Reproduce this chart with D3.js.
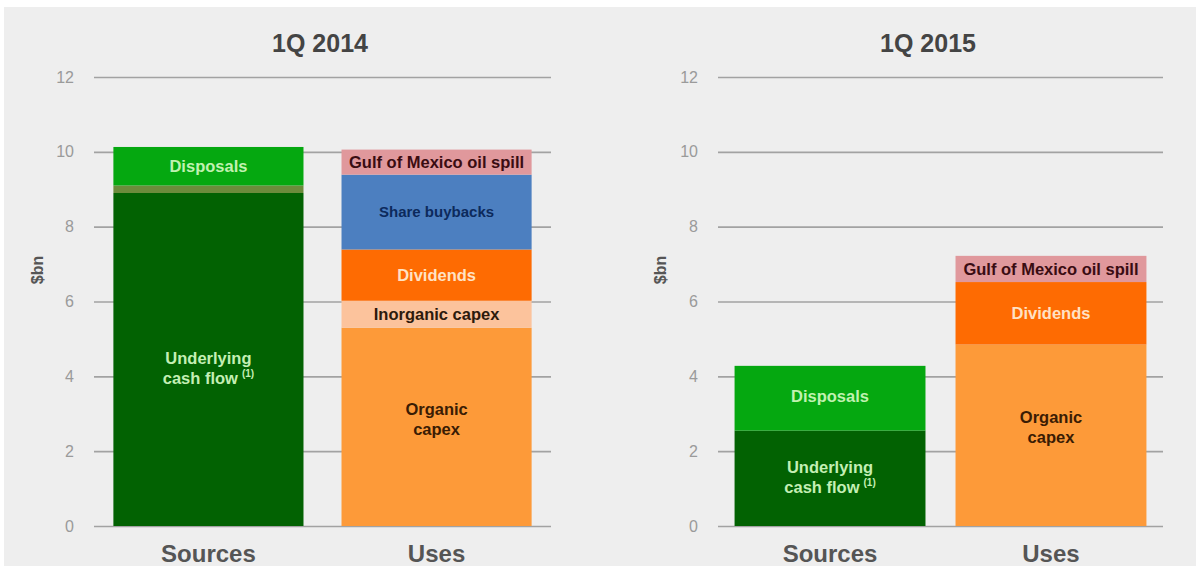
<!DOCTYPE html>
<html>
<head>
<meta charset="utf-8">
<script src="https://cdn.jsdelivr.net/npm/d3@7"></script>
<style>
  html, body { margin: 0; padding: 0; background: #ffffff; }
  svg { display: block; font-family: "Liberation Sans", Arial, sans-serif; }
</style>
</head>
<body>
<svg id="chart" width="1200" height="566"></svg>
<script>
// Sources and uses of cash, $bn
const panelTitles = ["1Q 2014", "1Q 2015"];
const categories = ["Sources", "Uses"];
const yTicks = [0, 2, 4, 6, 8, 10, 12];

// 1Q 2014
const sources2014Names = ["Underlying cash flow", "Other sources", "Disposals"];
const sources2014Values = [8.9, 0.2, 1.03];
const uses2014Names = ["Organic capex", "Inorganic capex", "Dividends", "Share buybacks", "Gulf of Mexico oil spill"];
const uses2014Values = [5.3, 0.72, 1.37, 2.0, 0.67];

// 1Q 2015
const sources2015Names = ["Underlying cash flow", "Disposals"];
const sources2015Values = [2.55, 1.73];
const uses2015Names = ["Organic capex", "Dividends", "Gulf of Mexico oil spill"];
const uses2015Values = [4.85, 1.67, 0.70];

// Segment styling
const fillOf = {
  "Underlying cash flow": "#026202",
  "Other sources": "#6c8c3c",
  "Disposals": "#05a810",
  "Organic capex": "#fd9a39",
  "Inorganic capex": "#fcc39c",
  "Dividends": "#fe6b02",
  "Share buybacks": "#4c7fc0",
  "Gulf of Mexico oil spill": "#e0989c"
};
const textOf = {
  "Underlying cash flow": "#c4efb4",
  "Disposals": "#c0f2b0",
  "Organic capex": "#3a1c04",
  "Inorganic capex": "#2c1a0c",
  "Dividends": "#ffe2c4",
  "Share buybacks": "#0c2a5c",
  "Gulf of Mexico oil spill": "#3a0c12"
};
// Lines of text shown inside each segment
const labelLines = {
  "Underlying cash flow": ["Underlying", "cash flow"],
  "Disposals": ["Disposals"],
  "Organic capex": ["Organic", "capex"],
  "Inorganic capex": ["Inorganic capex"],
  "Dividends": ["Dividends"],
  "Share buybacks": ["Share buybacks"],
  "Gulf of Mexico oil spill": ["Gulf of Mexico oil spill"]
};

const panels = [
  {
    title: panelTitles[0],
    grid: [94, 551], padIn: 0.1667, padOut: 0.085,
    titleX: 320, axisLabelX: 38,
    labelNudge: { "Underlying cash flow": 9, "Organic capex": -8 },
    stacks: [
      { cat: categories[0], names: sources2014Names, values: sources2014Values },
      { cat: categories[1], names: uses2014Names, values: uses2014Values }
    ]
  },
  {
    title: panelTitles[1],
    grid: [718, 1163], padIn: 0.136, padOut: 0.075,
    titleX: 928, axisLabelX: 661,
    labelNudge: { "Underlying cash flow": -1, "Disposals": -2, "Organic capex": -8 },
    stacks: [
      { cat: categories[0], names: sources2015Names, values: sources2015Values },
      { cat: categories[1], names: uses2015Names, values: uses2015Values }
    ]
  }
];

const svg = d3.select("#chart");

// Panel background
svg.append("rect")
  .attr("x", 4).attr("y", 7)
  .attr("width", 1192).attr("height", 566 - 7)
  .attr("fill", "#eeeeee");

const y = d3.scaleLinear().domain([0, 12]).range([526, 77]);

panels.forEach(p => {
  const g = svg.append("g");
  const x = d3.scaleBand()
    .domain(categories)
    .range(p.grid)
    .paddingInner(p.padIn)
    .paddingOuter(p.padOut);

  // Gridlines and tick labels
  const axis = d3.axisLeft(y)
    .tickValues(yTicks)
    .tickSizeInner(-(p.grid[1] - p.grid[0]))
    .tickSizeOuter(0)
    .tickPadding(20);
  const ag = g.append("g")
    .attr("transform", `translate(${p.grid[0]},0)`)
    .call(axis);
  ag.select(".domain").remove();
  ag.selectAll(".tick line").attr("stroke", "#a2a2a2").attr("stroke-width", 1.6);
  ag.selectAll(".tick text")
    .attr("fill", "#9a9a9a")
    .style("font-size", "16px")
    .style("font-family", "'Liberation Sans', Arial, sans-serif");

  // Title
  g.append("text")
    .attr("x", p.titleX).attr("y", 52)
    .attr("text-anchor", "middle")
    .attr("fill", "#444444")
    .style("font-size", "25px").style("font-weight", "bold")
    .text(p.title);

  // Y axis title
  g.append("text")
    .attr("transform", `translate(${p.axisLabelX + 5},270) rotate(-90)`)
    .attr("text-anchor", "middle")
    .attr("fill", "#555555")
    .style("font-size", "16px").style("font-weight", "bold")
    .text("$bn");

  // Stacked bars
  p.stacks.forEach(s => {
    let base = 0;
    const segs = s.values.map((v, i) => {
      const seg = { name: s.names[i], y0: base, y1: base + v };
      base += v;
      return seg;
    });
    const bx = x(s.cat), bw = x.bandwidth();

    g.selectAll(null)
      .data(segs)
      .join("rect")
      .attr("x", bx)
      .attr("width", bw)
      .attr("y", d => y(d.y1))
      .attr("height", d => y(d.y0) - y(d.y1))
      .attr("fill", d => fillOf[d.name]);

    segs.forEach(d => {
      const lines = labelLines[d.name];
      if (!lines) return;
      const mid = (y(d.y0) + y(d.y1)) / 2 + (p.labelNudge[d.name] || 0);
      const lh = 20;
      const size = d.name === "Share buybacks" ? 15 : 16.5;
      const t = g.append("text")
        .attr("text-anchor", "middle")
        .attr("fill", textOf[d.name])
        .style("font-size", size + "px")
        .style("font-weight", "bold");
      lines.forEach((ln, i) => {
        const ty = mid - (lines.length - 1) * lh / 2 + i * lh + size * 0.36;
        t.append("tspan")
          .attr("x", bx + bw / 2)
          .attr("y", ty)
          .text(ln);
        if (d.name === "Underlying cash flow" && i === lines.length - 1) {
          t.append("tspan")
            .attr("dx", 4).attr("dy", -7)
            .style("font-size", "10px")
            .text("(1)");
        }
      });
    });

    // Category label
    g.append("text")
      .attr("x", bx + bw / 2).attr("y", 562)
      .attr("text-anchor", "middle")
      .attr("fill", "#555555")
      .style("font-size", "24px").style("font-weight", "bold")
      .text(s.cat);
  });
});
</script>
</body>
</html>
